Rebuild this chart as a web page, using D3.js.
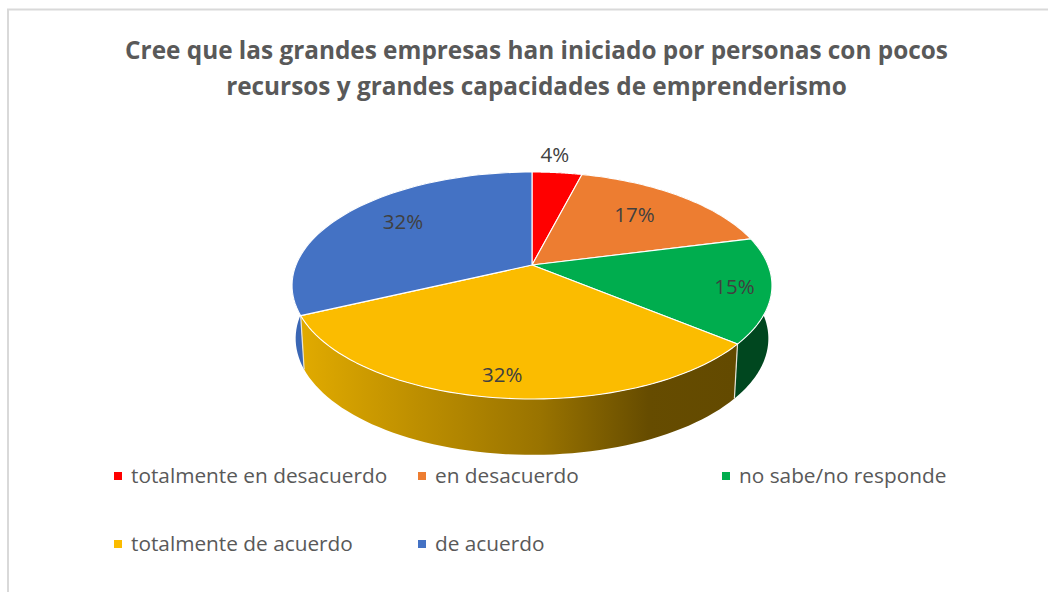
<!DOCTYPE html>
<html>
<head>
<meta charset="utf-8">
<script src="https://cdn.jsdelivr.net/npm/d3@7"></script>
<style>
    html, body { margin: 0; padding: 0; background: #fff; }
    svg { display: block; }
    text { font-family: "Open Sans", sans-serif; }
</style>
</head>
<body>
<svg id="chart" width="1048" height="592"></svg>
<script>
var titleLines = [
    'Cree que las grandes empresas han iniciado por personas con pocos',
    'recursos y grandes capacidades de emprenderismo'
];
var categories = ['totalmente en desacuerdo', 'en desacuerdo', 'no sabe/no responde', 'totalmente de acuerdo', 'de acuerdo'];
var values = [4, 17, 15, 32, 32];
var colors = ['#ff0000', '#ed7d31', '#00ad4e', '#fbbc00', '#4472c4'];
var wallColors = ['#990000', '#8e4b1d', '#00471f', 'url(#yellowWall)', '#3a66b4'];

var svg = d3.select('#chart');

// pie is tilted with a perspective, so the hub is not the middle of the ellipse
var hub = { x: 532, y: 265 };
var tilt = { a: 236, b: 109.8, k: 0.1806 };
var depth = { scaleX: 0.985, scaleY: 1.025, shift: 52.5 };
var arcs = d3.pie().sort(null).value(function(d) { return d; })(values);

function project(angle, r) {
    var u = r * Math.sin(angle), v = -r * Math.cos(angle);
    var den = 1 - tilt.k * v;
    return [tilt.a * u / den, tilt.b * v / den];
}
function topPoint(angle, r) {
    var p = project(angle, r);
    return [hub.x + p[0], hub.y + p[1]];
}
function bottomPoint(angle) {
    var p = project(angle, 1);
    return [hub.x + p[0] * depth.scaleX, hub.y + p[1] * depth.scaleY + depth.shift];
}
function sweep(a0, a1) {
    return d3.range(0, 61).map(function(i) { return a0 + (a1 - a0) * i / 60; });
}

var line = d3.line();

function drawFrame() {
    svg.append('path')
        .attr('d', 'M8,592V9.5H1048')
        .attr('fill', 'none')
        .attr('stroke', '#d9d9d9')
        .attr('stroke-width', 2);
}

function drawTitle() {
    svg.selectAll('.title')
            .data(titleLines)
        .enter().append('text')
            .classed('title', true)
            .attr('x', 536.5)
            .attr('y', function(d, i) { return 59 + i * 35.5; })
            .attr('text-anchor', 'middle')
            .attr('font-size', 24.35)
            .attr('font-weight', 700)
            .attr('fill', '#595959')
            .text(function(d) { return d; });
}

function drawPie() {
    var grad = svg.append('defs').append('linearGradient')
        .attr('id', 'yellowWall')
        .attr('gradientUnits', 'userSpaceOnUse')
        .attr('x1', 303).attr('x2', 735).attr('y1', 0).attr('y2', 0);
    grad.selectAll('stop')
            .data([[0, '#e0aa00'], [0.25, '#bf9000'], [0.55, '#997300'], [0.8, '#664c00'], [1, '#634a00']])
        .enter().append('stop')
            .attr('offset', function(d) { return d[0]; })
            .attr('stop-color', function(d) { return d[1]; });

    // walls first, back ones before front ones, the top disc hides what is behind
    var wallOrder = arcs.slice().sort(function(a, b) {
        var ma = (a.startAngle + a.endAngle) / 2, mb = (b.startAngle + b.endAngle) / 2;
        return project(ma, 1)[1] - project(mb, 1)[1];
    });
    svg.selectAll('.wall')
            .data(wallOrder)
        .enter().append('path')
            .classed('wall', true)
            .attr('fill', function(d) { return wallColors[d.index]; })
            .attr('d', function(d) {
                var angles = sweep(d.startAngle, d.endAngle);
                return line(angles.map(function(a) { return topPoint(a, 1); })
                    .concat(angles.slice().reverse().map(bottomPoint))) + 'Z';
            });

    // seams between the walls that can be seen
    svg.selectAll('.seam')
            .data(arcs.filter(function(d) { return project(d.startAngle, 1)[1] > 0; }))
        .enter().append('path')
            .classed('seam', true)
            .attr('stroke', '#e8e4d8')
            .attr('stroke-width', 1.2)
            .attr('d', function(d) { return line([topPoint(d.startAngle, 1), bottomPoint(d.startAngle)]); });

    svg.selectAll('.slice')
            .data(arcs)
        .enter().append('path')
            .classed('slice', true)
            .attr('fill', function(d) { return colors[d.index]; })
            .attr('stroke', '#fff')
            .attr('stroke-width', 1.1)
            .attr('stroke-linejoin', 'round')
            .attr('d', function(d) {
                var outer = sweep(d.startAngle, d.endAngle).map(function(a) { return topPoint(a, 1); });
                return line([[hub.x, hub.y]].concat(outer)) + 'Z';
            });
}

function drawLabels() {
    var labelRadius = [1.23, 0.68, 0.85, 0.855, 0.72];
    var labelNudge = [[-7, -1], [-2, -2], [0, 0], [0, 0], [5, -4]];
    svg.selectAll('.label')
            .data(arcs)
        .enter().append('text')
            .classed('label', true)
            .attr('transform', function(d) {
                var p = topPoint((d.startAngle + d.endAngle) / 2, labelRadius[d.index]);
                return 'translate(' + (p[0] + labelNudge[d.index][0]) + ',' + (p[1] + labelNudge[d.index][1]) + ')';
            })
            .attr('dy', 7.5)
            .attr('text-anchor', 'middle')
            .attr('font-size', 20.5)
            .attr('fill', '#404040')
            .text(function(d) { return d.value + '%'; });
}

function drawLegend() {
    var col = d3.scaleOrdinal().domain([0, 1, 2]).range([114, 418, 722]);
    var row = d3.scaleOrdinal().domain([0, 1]).range([476, 544]);
    var items = svg.selectAll('.legend')
            .data(categories)
        .enter().append('g')
            .classed('legend', true)
            .attr('transform', function(d, i) {
                return 'translate(' + col(i % 3) + ',' + row(Math.floor(i / 3)) + ')';
            });
    items.append('rect')
        .attr('x', 0).attr('y', -4)
        .attr('width', 8).attr('height', 8)
        .attr('fill', function(d, i) { return colors[i]; });
    items.append('text')
        .attr('x', 17).attr('y', 7)
        .attr('font-size', 20.8)
        .attr('fill', '#595959')
        .text(function(d) { return d; });
}

drawFrame();
drawTitle();
drawPie();
drawLabels();
drawLegend();
</script>
</body>
</html>
